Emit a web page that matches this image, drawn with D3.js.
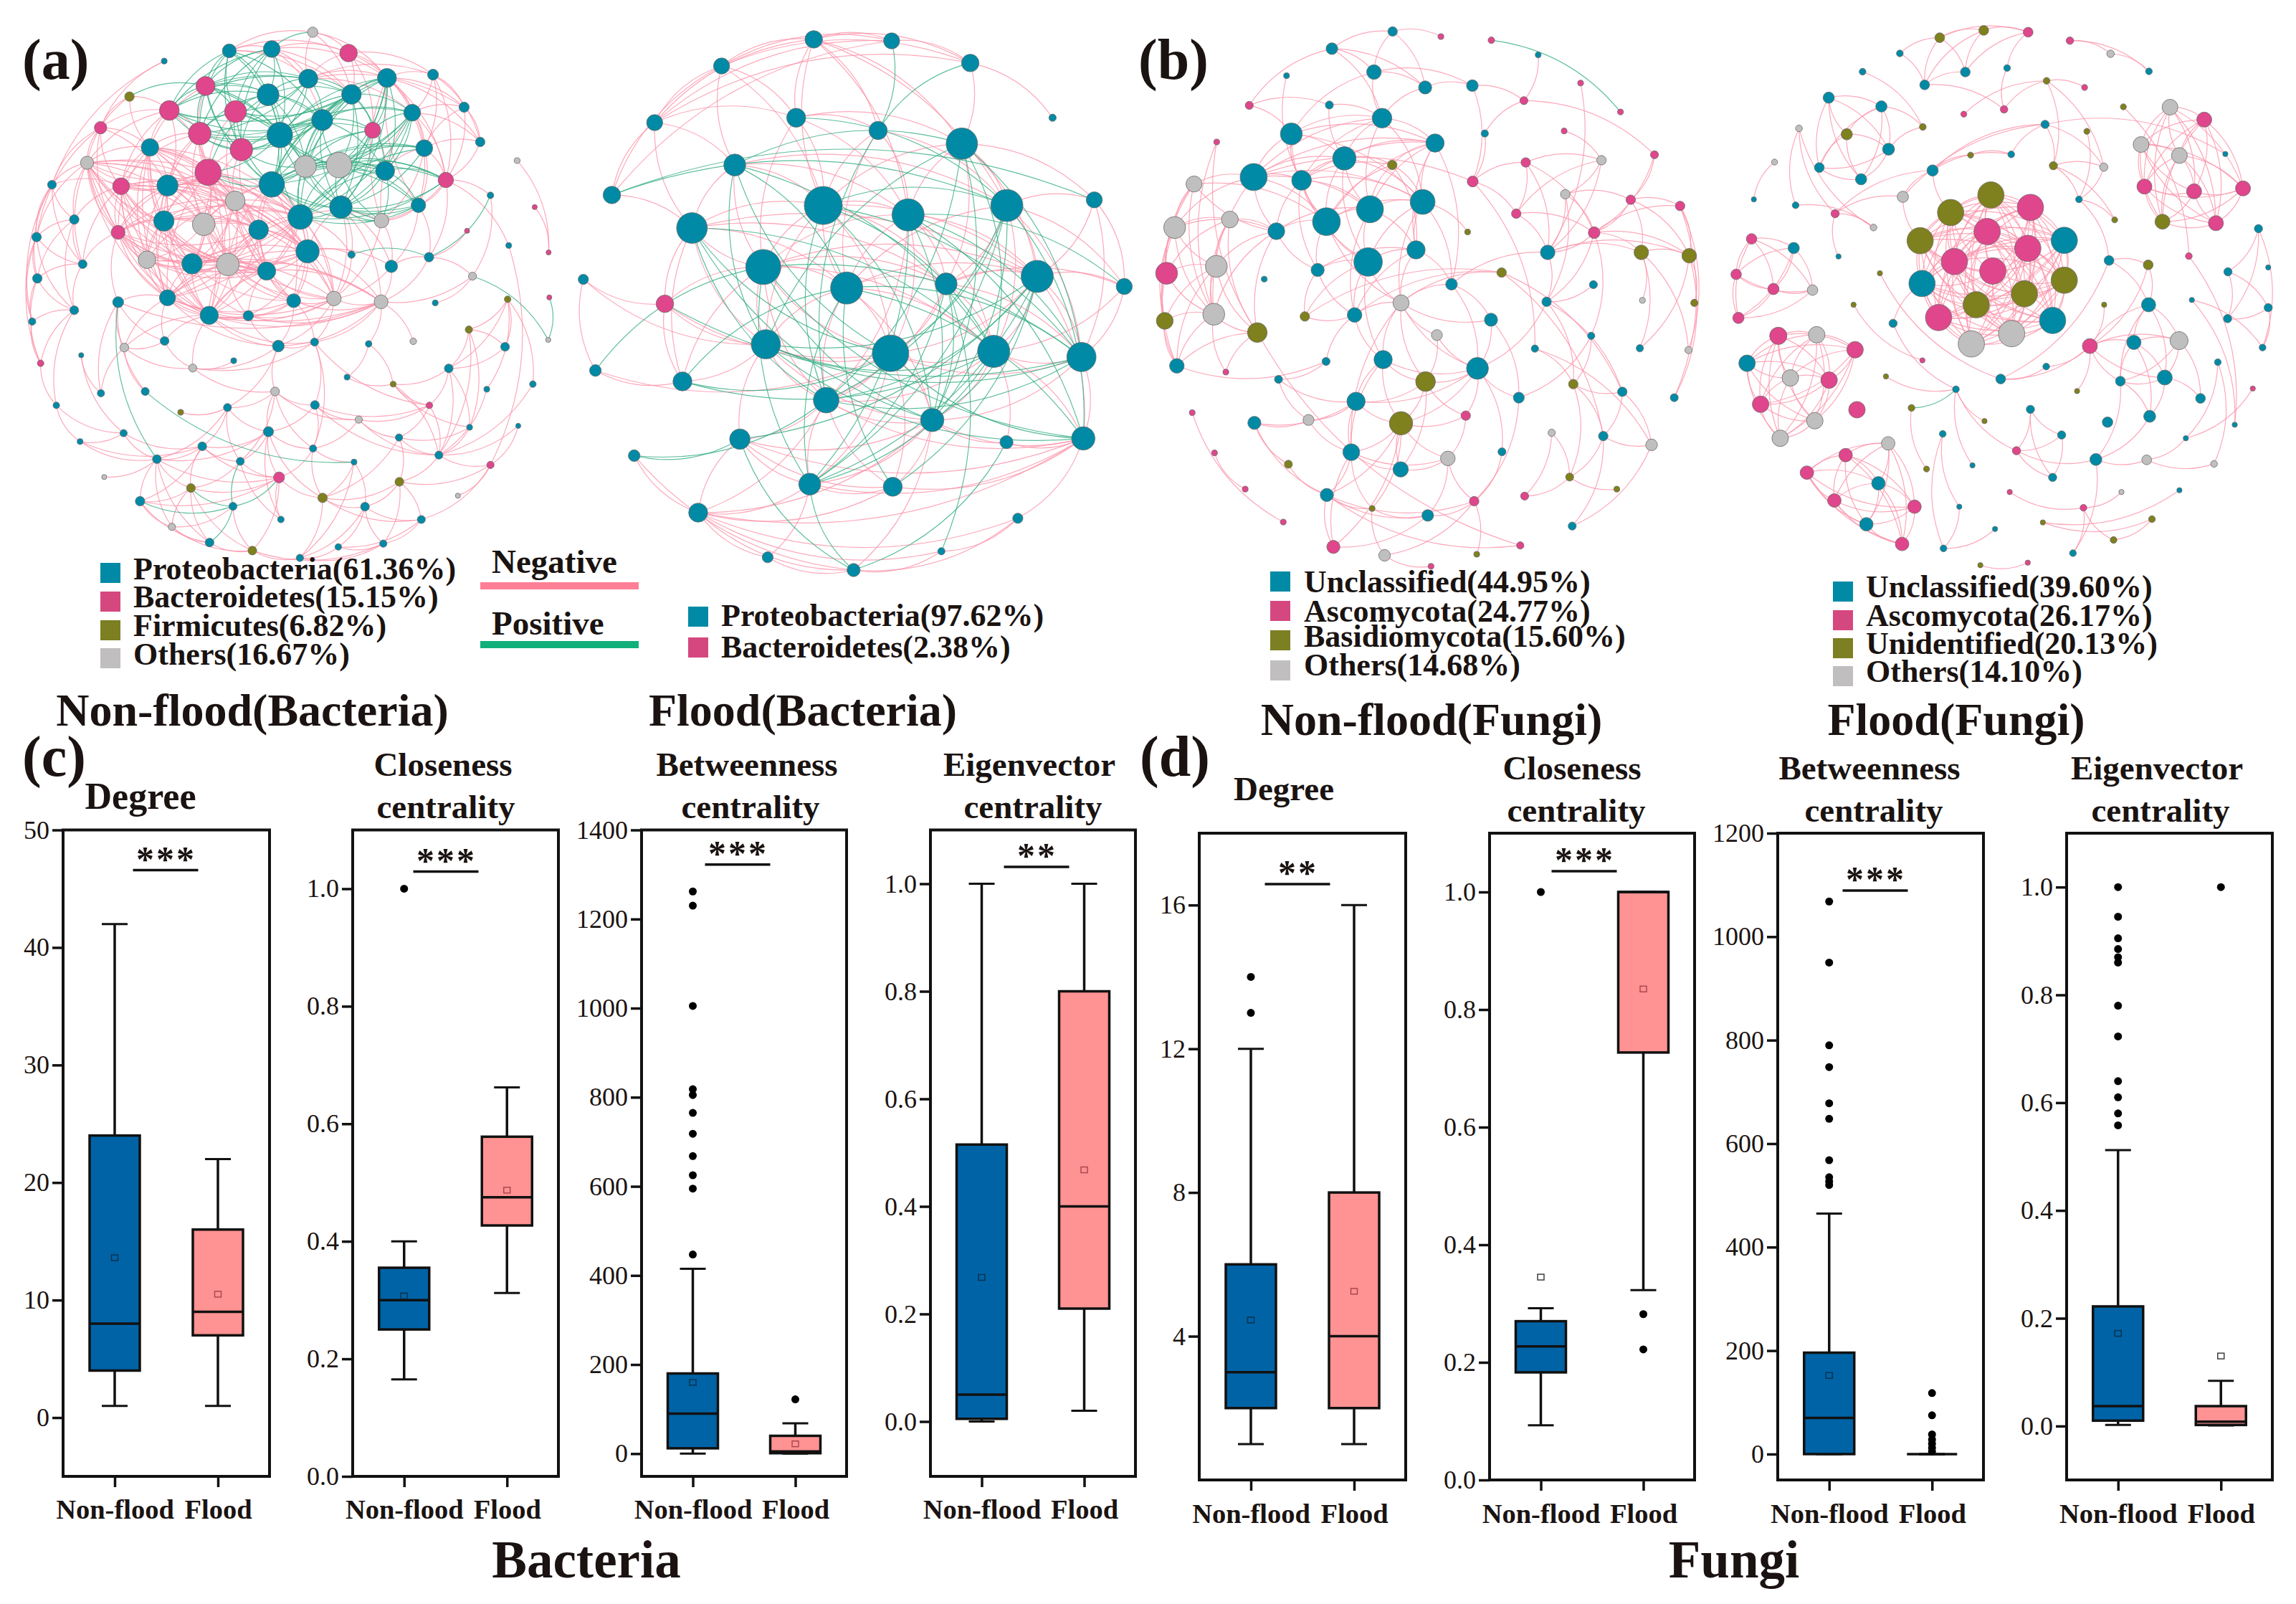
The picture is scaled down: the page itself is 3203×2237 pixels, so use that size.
<!DOCTYPE html>
<html><head><meta charset="utf-8">
<script src="https://cdn.jsdelivr.net/npm/d3@7/dist/d3.min.js"></script>
<style>html,body{margin:0;padding:0;background:#fff}svg{display:block}text{font-family:"Liberation Serif","Times New Roman",serif;fill:#1a1311}</style>
</head><body><svg id="c" width="3203" height="2237"></svg>
<script>
// ---- network layouts: [x, y, size, group] in layout units (group 0 teal,1 pink,2 olive,3 grey)
const layoutA=[[449,167,8,0],[855,88,14,3],[627,139,19,0],[743,134,23,0],[953,145,24,1],[843,215,26,0],[1058,213,26,0],[1184,204,15,0],[562,235,26,1],[733,259,30,0],[961,258,27,0],[354,264,13,2],[1269,293,14,0],[463,302,27,1],[644,305,30,1],[881,328,29,0],[1127,308,23,0],[275,349,17,1],[546,365,31,1],[765,369,35,0],[1019,356,22,1],[1313,388,13,0],[410,403,24,0],[660,409,31,1],[1160,405,23,0],[238,445,18,3],[569,471,36,1],[835,455,30,3],[927,451,35,3],[1053,467,26,0],[1414,439,8,3],[1219,492,21,1],[142,505,12,0],[331,509,23,1],[458,507,29,0],[743,504,35,0],[1341,534,9,0],[643,549,27,3],[932,566,31,0],[1144,561,20,0],[1462,566,7,1],[203,600,13,0],[448,604,28,0],[557,613,31,3],[821,593,34,0],[1043,603,20,3],[1277,631,7,1],[100,648,13,0],[323,635,19,1],[707,628,27,0],[1391,671,8,0],[1500,690,7,1],[226,722,12,0],[402,710,24,3],[525,721,28,0],[623,723,31,3],[841,687,32,0],[961,696,10,0],[1173,703,13,0],[102,761,13,0],[729,741,25,0],[1070,728,17,0],[1292,755,11,3],[323,826,15,0],[458,814,22,0],[803,822,19,0],[913,816,20,3],[1042,825,19,3],[1190,828,8,0],[1388,818,9,2],[1502,813,7,1],[203,848,12,0],[88,879,10,0],[572,862,25,0],[679,863,14,0],[450,932,12,0],[761,946,16,0],[860,935,11,0],[1008,940,9,0],[1130,933,9,3],[1282,901,10,2],[1381,948,12,0],[1499,929,7,3],[340,950,12,3],[111,993,9,1],[222,971,7,0],[527,1006,11,3],[639,986,8,0],[949,1031,8,0],[1227,1007,12,0],[276,1075,10,0],[397,1070,11,0],[1075,1050,8,2],[1331,1064,8,0],[1457,1050,9,0],[752,1070,12,3],[154,1108,9,0],[622,1114,11,0],[494,1127,8,2],[861,1107,12,0],[1174,1108,9,1],[981,1147,10,3],[338,1184,10,0],[1284,1168,8,0],[1417,1164,7,0],[734,1180,14,0],[1091,1196,10,0],[219,1207,8,0],[553,1220,12,0],[856,1226,10,0],[429,1255,12,0],[657,1261,11,0],[968,1263,8,0],[1200,1244,11,0],[1341,1271,10,1],[763,1305,15,1],[285,1304,7,3],[522,1334,12,2],[1092,1317,12,2],[1252,1355,7,3],[383,1370,13,0],[882,1361,13,2],[637,1384,11,0],[998,1385,12,0],[470,1440,10,3],[768,1420,9,0],[1152,1420,11,0],[573,1483,12,0],[690,1505,12,2],[1048,1486,10,0],[925,1495,9,0],[820,1525,10,0]];
const negCliquesA=[[26,34,42,43,37,49,54,55,53,60,56,44,33,48,22,25,64,73],[64,73,74,65,66,67,60,56,54,55],[49,37,35,44,56,60,65,66,43,55],[13,22,34,26,33,25],[6,16,24,31,39,45]];
const posCliquesA=[[8,13,14,18,23,5,10,15,19,9,2,3],[19,27,28,35,38,15,29,44,10,20,6,16],[27,28,35,38,29,39,45,44,31,24],[8,14,23,26,27,35,19,9]];
const negA=[[0,[17,32]],[1,[2,4,5,10,6]],[2,[3,4,5,10]],[3,[4,5,6,10,15]],[4,[5,6,7,10,16,20]],[5,[6,7,12,16]],[6,[7,12,21,24]],[7,[12,16,21,24,31]],[12,[16,21,24,31]],[16,[21,24,31]],[21,[24,31]],[11,[17,25,13,22]],[17,[25,32,33,47,48,13,22,34]],[25,[32,33,41,47,52,48,22,34,42]],[32,[41,47,52,59,72,33]],[41,[47,52,59,71,33]],[47,[52,59,71,72,84]],[52,[59,71,48,33]],[59,[71,72,84]],[71,[72,84,96]],[72,[84]],[84,[96]],[48,[63,64,53,54]],[31,[50,36,58]],[50,[114]],[30,[51]],[40,[51]],[36,[62]],[62,[68,67,58]],[46,[58]],[69,[80,89,81,93]],[80,[89,81,113,103]],[81,[89]],[89,[113,103,100,92]],[94,[113,69]],[93,[113]],[63,[83,90,91,75,64,67]],[83,[86,90,91,75,64,73]],[64,[75,76]],[73,[75,76,77,86]],[74,[76]],[65,[67,76,77]],[66,[67,76,77,57,61]],[67,[77,76,78,79,61,58]],[76,[77,86,95,97]],[77,[86,99,100,109]],[78,[88,92]],[75,[86]],[86,[87,95]],[85,[90,102]],[96,[102,107]],[102,[107,110,108]],[107,[110,108]],[110,[108,97,117,120,124,127,115,105]],[97,[98,105,108,111,95]],[95,[99,105,109,111,101]],[99,[105,109,101,100,113]],[100,[92,101,106,113,77]],[92,[100,113,103]],[101,[109,106,113]],[88,[92]],[105,[108,111,115,121,125,109]],[108,[111,115,117,120]],[111,[115,117,125]],[109,[115,121,112]],[112,[123,121,131]],[115,[121,125,128,117,120]],[117,[120,124,127,128]],[120,[124,127]],[124,[127,128,122]],[127,[128]],[122,[128]],[128,[131,129]],[121,[123,118,126,131,106]],[123,[118,126,129,130,131]],[118,[126,106,113,129,114,121]],[126,[129,114,130]],[129,[130,131]],[130,[131]],[113,[103,104,106,114,94,80]],[106,[103]],[114,[119,104]],[103,[80]],[116,[110]],[33,[22,34,42,53]],[22,[13,8,18,34,42]],[13,[18,34,26]],[18,[26,34,42,43,37,33]],[23,[26,37,49,43]],[8,[26]],[14,[26,37]],[44,[45,56,65,66,57]],[38,[56,66,67,61,57]],[56,[65,66,67,61,57]],[61,[67,58,66,39]],[58,[67,39]],[39,[61]],[45,[61,66]],[60,[73,74,65,49]],[29,[20,24]]];
const posA=[[11,[17,8,13,22]],[63,[110]],[91,[112]],[62,[58,68,82]],[70,[82]],[36,[58]],[110,[117]],[117,[122]],[122,[127,115,111,120]],[111,[105]],[120,[124]],[67,[77]],[21,[24,12]],[31,[39,58]],[1,[3]],[2,[8,9]],[4,[10,5]],[6,[16,29]],[16,[24,29]],[24,[29,39]],[57,[58]],[25,[22]]];

const layoutB=[[657,105,24,0],[870,109,22,0],[1085,168,24,0],[405,176,22,0],[1310,314,10,0],[222,327,22,0],[609,314,26,0],[833,348,25,0],[1062,383,43,0],[441,440,30,0],[105,520,24,0],[683,548,52,0],[915,573,44,0],[1185,548,44,0],[1424,533,22,0],[324,608,42,0],[519,712,48,0],[747,768,44,0],[1019,757,30,0],[1268,737,44,0],[1506,764,22,0],[27,745,14,0],[250,810,24,1],[526,918,40,0],[867,942,50,0],[1149,937,44,0],[1389,952,40,0],[60,988,16,0],[298,1017,26,0],[691,1067,35,0],[981,1120,32,0],[455,1171,28,0],[1184,1179,18,0],[1394,1169,32,0],[166,1215,16,0],[646,1291,30,0],[873,1298,26,0],[341,1367,26,0],[1215,1382,14,0],[1006,1470,10,0],[531,1486,15,0],[766,1520,18,0]];
const negB=[[0,[1,2,3,5,6,11,12,13,7,8]],[1,[2,3,5,10]],[2,[3,4,5,8]],[3,[5,10,6,9,11]],[5,[10,6,9,15]],[10,[15]],[6,[7,11,12,16,8]],[7,[11,12,17,13]],[8,[11,12,13,14,18,19]],[9,[11,12,13,15,16]],[11,[12,15,16,17,18,19,23,24]],[12,[16,17,18,19,25,24,29]],[13,[17,18,19,25,26,14,20]],[14,[19,20,26]],[15,[16,22,28,23,18,17,19]],[16,[17,18,19,22,23,24,25,29]],[17,[18,19,23,24,25,29,30]],[18,[19,24,25,26,29]],[19,[20,25,26,24,33]],[20,[26,25,18]],[21,[22,27,23]],[22,[28,23,24]],[23,[24,28,29,31,30]],[24,[25,26,29,30,36,35,27]],[25,[26,29,30,32,33]],[26,[33,30]],[27,[28,24]],[28,[23,16]],[29,[30,31,33,35,36,37]],[30,[31,32,33,35,36,37,41]],[31,[33,35,36,37]],[32,[33]],[33,[35,36,37,38,26]],[35,[36,37,40]],[36,[37,30]],[37,[41,39,40]],[38,[41,39,33,37]],[39,[41]],[34,[41,37]],[40,[41,37]]];
const posB=[[3,[9]],[9,[8,13,23,17,24,25]],[6,[8,13]],[7,[12,1,29]],[2,[7]],[10,[13,14]],[14,[13]],[15,[22,24,25,29,11,30]],[16,[28,27,19,26,30,33,35]],[11,[25,29,30,13,26]],[12,[30,35,26,20,33]],[13,[29,30,24,33,35]],[19,[17,29,14,30,35,36]],[8,[26,25,30,29,23]],[17,[35,26,33,36]],[18,[30,35]],[22,[26]],[21,[27]],[23,[26,33,25,19]],[24,[33,28]],[25,[35]],[28,[25,17]],[29,[34,26]],[31,[34,41,19]],[35,[41]],[37,[41]],[32,[41]],[39,[18]],[40,[41]]];

const layoutC=[[711,86,13,0],[843,100,8,1],[981,110,9,1],[545,133,16,0],[1109,150,8,0],[660,197,20,0],[421,207,8,0],[800,239,18,0],[929,234,16,0],[1225,227,8,1],[1070,275,11,1],[319,288,11,1],[538,287,11,0],[1334,306,8,1],[682,323,27,0],[434,366,30,0],[963,365,10,0],[1180,358,8,1],[827,391,25,0],[230,388,8,1],[1427,423,11,1],[579,433,32,0],[1075,444,13,1],[1282,438,13,3],[710,451,13,2],[331,484,37,0],[462,493,27,0],[168,503,22,3],[930,496,15,1],[793,552,34,0],[1183,531,13,3],[649,572,37,0],[1362,546,13,1],[1497,563,13,1],[1049,584,13,1],[530,606,38,0],[266,600,23,3],[115,622,30,3],[393,632,23,0],[916,634,8,2],[1262,636,16,1],[775,683,25,0],[1135,690,20,0],[1391,690,20,2],[1522,699,20,2],[644,716,39,0],[93,747,30,1],[229,728,30,3],[506,738,18,0],[360,763,8,0],[1009,745,13,2],[872,777,16,0],[1260,778,11,0],[734,828,22,3],[1132,825,13,0],[1394,821,8,3],[1536,828,10,2],[222,859,30,3],[607,861,20,0],[471,865,13,2],[88,877,23,2],[980,874,18,0],[341,909,27,2],[832,916,15,3],[1254,918,10,0],[1100,953,10,0],[1387,952,10,0],[1520,957,10,3],[685,983,25,0],[121,1000,20,0],[529,988,11,0],[943,1007,30,0],[255,1017,8,1],[399,1037,11,0],[801,1043,27,2],[1205,1050,13,2],[1339,1071,13,0],[1056,1087,15,0],[1481,1087,11,0],[611,1097,25,0],[333,1156,18,0],[481,1148,15,3],[163,1128,8,1],[911,1136,13,1],[734,1157,32,2],[1146,1183,10,3],[1287,1192,13,0],[1419,1216,16,3],[598,1236,23,0],[1010,1235,11,0],[862,1253,20,3],[224,1238,8,1],[733,1283,21,0],[426,1269,11,2],[1195,1304,11,2],[308,1337,8,1],[1324,1337,8,2],[531,1353,18,0],[934,1370,13,1],[1072,1356,11,1],[655,1390,8,2],[807,1409,16,0],[412,1427,8,1],[1202,1438,11,0],[549,1495,18,1],[1060,1491,10,1],[689,1518,16,3],[941,1515,8,2],[816,1548,8,1]];
const negC=[[0,[1,3,5,7]],[3,[11,5,14,7]],[5,[7,8,14,15]],[7,[8,14]],[8,[10,28]],[4,[10]],[10,[16,20]],[16,[28]],[9,[42]],[11,[12,15]],[6,[26]],[12,[21,14]],[14,[15,18,21,25,26,29,31]],[15,[18,21,25,26,29,35]],[18,[21,24,29,31,35,41,26,25,51]],[19,[57,62]],[21,[24,25,26,29,31,35,45]],[24,[26,29,31,35,41]],[25,[26,27,28,29,31,35,38,37,57]],[26,[29,31,35,38,48,45]],[29,[31,35,39,41,45,51,53]],[31,[35,38,41,45,58]],[35,[38,45,48,53,27]],[38,[27,36,37,47,48,57,62]],[27,[37,46,57,60]],[36,[37,46,47,57,62]],[37,[46,47,57,60,69]],[46,[47,57,60,69]],[47,[57,60,62,69]],[57,[60,62,69,72]],[60,[69]],[62,[69,72,105]],[69,[70]],[70,[58,73]],[41,[45,53,51,58,48]],[45,[53,58,59,68,48]],[48,[59,58]],[53,[58,51,63,68,71,74,50,61,88]],[58,[59,50,68]],[59,[50]],[51,[61,71]],[61,[71,77]],[63,[71,74]],[28,[22,34,65]],[22,[23,34,40,42]],[17,[23]],[23,[30,34,42]],[30,[32,40,42,54]],[32,[33,40,43,44,20]],[20,[40]],[33,[40,44,67,78]],[34,[40,42]],[40,[42,43,44,54,64]],[42,[43,44,54,51]],[43,[44,55,66,67]],[44,[56,66,78]],[54,[52,71,76,75]],[50,[76,86]],[64,[75,77]],[65,[75,87]],[75,[76,86,94]],[76,[87,86]],[85,[94,99]],[86,[87,103,94]],[87,[103]],[94,[96,99]],[77,[71,98]],[71,[68,74,79,83,84,89]],[68,[74,79,84,88]],[74,[79,84,92,83]],[79,[80,81,84,88,73]],[80,[81,93,97]],[81,[73,88]],[83,[84,90]],[84,[88,90,92,97,100,104]],[88,[90,97,104,92,100]],[90,[92,98,101]],[93,[97]],[97,[98,100,104,101]],[98,[101,89,107]],[100,[101,106]],[101,[104]],[106,[108,98]],[105,[97]],[82,[102]],[91,[95]]];
const posC=[[2,[13]]];

const layoutD=[[856,88,13,1],[738,83,13,2],[621,103,13,2],[967,111,10,1],[1075,147,10,3],[515,146,9,0],[1177,195,9,0],[800,186,9,0],[689,197,13,0],[416,196,9,0],[581,232,13,0],[905,221,9,2],[1006,239,8,1],[792,299,10,1],[685,312,8,1],[326,267,15,0],[466,291,15,0],[1109,292,8,2],[576,347,9,2],[1233,293,21,3],[1324,327,20,1],[247,351,9,3],[374,367,15,2],[1012,359,8,2],[901,340,11,0],[1156,395,21,3],[485,408,16,0],[182,443,8,3],[703,424,8,2],[811,422,9,0],[1380,421,7,0],[1258,425,21,3],[301,458,13,0],[923,453,11,2],[1057,457,11,3],[412,490,15,0],[602,466,15,0],[757,533,35,2],[862,567,35,1],[650,581,35,2],[1165,510,20,1],[1297,523,20,1],[1427,515,20,1],[523,538,15,3],[991,545,9,0],[127,545,7,0],[238,561,9,0],[343,584,11,1],[747,633,35,1],[569,658,35,2],[952,657,35,0],[855,679,35,1],[1086,601,8,2],[1213,606,20,2],[1355,610,20,1],[445,622,9,3],[1468,625,11,0],[121,653,14,1],[233,678,15,0],[660,715,35,1],[352,701,7,0],[1283,700,9,1],[1071,712,13,0],[1175,724,13,2],[762,741,35,1],[80,750,14,1],[574,775,35,0],[952,766,35,2],[462,747,7,2],[1387,743,11,0],[1494,731,7,0],[179,790,15,1],[283,793,14,3],[846,803,35,2],[718,833,35,2],[1176,833,19,0],[1291,820,7,0],[392,833,7,2],[1058,833,7,2],[86,869,15,1],[618,868,35,1],[1386,871,11,0],[497,884,11,0],[921,876,35,0],[1494,841,11,0],[192,918,23,1],[294,915,22,3],[812,912,35,3],[396,956,22,1],[705,940,35,3],[1020,946,20,1],[1137,936,19,0],[1257,931,24,3],[575,985,7,1],[1479,950,9,0],[109,993,22,0],[224,1033,22,3],[327,1039,22,1],[904,1002,9,0],[1219,1032,20,0],[1101,1042,13,0],[783,1036,13,0],[478,1029,7,2],[986,1069,7,2],[1360,990,9,0],[664,1064,9,0],[1314,1089,13,0],[1453,1062,7,1],[145,1105,22,1],[401,1120,22,1],[546,1115,9,2],[289,1150,22,3],[740,1151,7,2],[862,1119,11,0],[1179,1138,16,0],[1067,1154,14,0],[197,1198,22,3],[945,1189,11,0],[1405,1161,7,0],[1275,1198,7,0],[484,1212,18,3],[629,1186,9,0],[371,1244,18,1],[825,1232,11,1],[1036,1256,16,0],[1171,1257,13,3],[1350,1268,9,3],[268,1292,18,1],[458,1321,18,0],[586,1282,8,2],[708,1272,7,0],[921,1305,11,0],[341,1368,18,1],[554,1385,18,1],[807,1345,7,1],[1104,1345,7,3],[1258,1340,7,0],[1003,1388,9,1],[673,1385,7,0],[426,1433,18,0],[1185,1419,9,2],[895,1428,7,2],[768,1446,7,0],[1083,1476,9,2],[631,1499,9,0],[975,1512,9,0],[521,1487,18,1],[729,1545,7,2],[855,1538,7,1]];
const negCliquesD=[[37,38,39,48,49,50,51,59,64,66,67,73,74,80,83,87,89],[19,20,25,31,40,41,42,53,54],[85,86,88,95,96,97,108,111,116],[120,122,127,128,132,133,139,146],[15,16,22,26,32,35],[57,58,65,71,72,79],[75,90,91,92,99,100]];
const negD=[[0,[1,2,8,7]],[1,[2,8,10]],[2,[5,10,8]],[5,[10]],[8,[10]],[3,[4,6]],[4,[6]],[7,[13]],[10,[13]],[11,[14,12,33,34]],[9,[18]],[16,[18]],[26,[18]],[36,[43,39,24,28,29]],[24,[43,29,33,34,30]],[28,[29]],[33,[34,44]],[34,[44]],[23,[44]],[44,[52,62]],[17,[61]],[61,[118]],[21,[46,55,47]],[46,[55]],[47,[55,43,36,60]],[43,[49]],[27,[45]],[68,[101]],[77,[93]],[82,[66,105]],[101,[90,98,62]],[90,[98,103,78]],[62,[75,63]],[63,[75,90]],[56,[69,81,94]],[69,[81,84]],[81,[84]],[84,[94]],[76,[94,118]],[104,[126,119]],[125,[126,124,119]],[119,[107,104]],[113,[117,123,131]],[117,[123,131]],[123,[131,124,105]],[105,[112,130,102]],[110,[129]],[121,[138,144]],[138,[144]],[142,[144]],[134,[137]],[135,[137]],[137,[143,145]],[124,[145,100,114]],[136,[141]],[140,[141,143]],[147,[148]],[100,[114]],[91,[99,114]],[99,[114,106]],[106,[92]],[52,[33]],[13,[11]]];
const posD=[[105,[110]]];

// ---- box-plot values
const catLabels=["Non-flood","Flood"];
const degreeB=[{lo:1,q1:4,med:8,q3:24,hi:42,mean:13.6,out:[]},{lo:1,q1:7,med:9,q3:16,hi:22,mean:10.5,out:[]}];
const closeB=[{lo:.165,q1:.25,med:.3,q3:.355,hi:.4,mean:.307,out:[1]},{lo:.312,q1:.427,med:.475,q3:.578,hi:.662,mean:.487,out:[]}];
const betweenB=[{lo:0,q1:12,med:90,q3:180,hi:415,mean:160,out:[447,595,625,668,718,765,805,818,1005,1230,1262]},{lo:0,q1:1,med:5,q3:40,hi:68,mean:22,out:[122]}];
const eigenB=[{lo:0,q1:.005,med:.05,q3:.515,hi:1,mean:.268,out:[]},{lo:.02,q1:.21,med:.4,q3:.8,hi:1,mean:.468,out:[]}];
const degreeF=[{lo:1,q1:2,med:3,q3:6,hi:12,mean:4.45,out:[13,14]},{lo:1,q1:2,med:4,q3:8,hi:16,mean:5.25,out:[]}];
const closeF=[{lo:.093,q1:.183,med:.227,q3:.27,hi:.292,mean:.345,out:[1]},{lo:.323,q1:.727,med:1,q3:1,hi:1,mean:.835,out:[.222,.282]}];
const betweenF=[{lo:0,q1:0,med:70,q3:196,hi:465,mean:152,out:[520,527,535,568,648,678,748,790,950,1068]},{lo:0,q1:0,med:0,q3:0,hi:0,mean:null,out:[5,12,20,28,38,75,118]}];
const eigenF=[{lo:.002,q1:.01,med:.037,q3:.222,hi:.512,mean:.172,out:[.558,.58,.61,.64,.723,.78,.86,.87,.885,.905,.945,1]},{lo:.001,q1:.002,med:.008,q3:.037,hi:.084,mean:.13,out:[1]}];

const groupColors=["#008aa5","#e0468c","#7f801e","#c0bfbf"];
const legendColors=["#008aa5","#d5487f","#7c7f22","#c0bebe"];
const svg=d3.select("#c");
const serif='"Liberation Serif","Times New Roman",serif';

function network(layout,neg,pos,negC,posC,ox,oy,sx,sy){
  const x=d3.scaleLinear().domain([0,1568]).range([ox,ox+1568/sx]);
  const y=d3.scaleLinear().domain([0,1568]).range([oy,oy+1568/sy]);
  const r=d3.scaleLinear().domain([0,1568]).range([0,1568/sx]);
  const cx=d3.mean(layout,d=>x(d[0])),cy=d3.mean(layout,d=>y(d[1]));
  const expand=(adj,cl)=>{const s=new Map();
    adj.forEach(([a,l])=>l.forEach(b=>{if(a!==b)s.set(Math.min(a,b)+"-"+Math.max(a,b),[a,b,cx,cy]);}));
    cl.forEach(c=>{const rx=d3.mean(c,i=>x(layout[i][0])),ry=d3.mean(c,i=>y(layout[i][1]));
      c.forEach((a,i)=>c.slice(i+1).forEach(b=>s.set(Math.min(a,b)+"-"+Math.max(a,b),[a,b,rx,ry])));});
    return s;};
  const P=expand(pos,posC),N=expand(neg,negC);
  N.forEach((v,k)=>P.delete(k));
  const arc=([a,b,rx,ry])=>{
    const x0=x(layout[a][0]),y0=y(layout[a][1]),x1=x(layout[b][0]),y1=y(layout[b][1]);
    const mx=(x0+x1)/2,my=(y0+y1)/2,nx=-(y1-y0)*.2,ny=(x1-x0)*.2;
    const d1=(mx+nx-rx)**2+(my+ny-ry)**2,d2=(mx-nx-rx)**2+(my-ny-ry)**2;
    const s=d1>=d2?1:-1;const p=d3.path();p.moveTo(x0,y0);p.quadraticCurveTo(mx+s*nx,my+s*ny,x1,y1);return p.toString();};
  const g=svg.append("g");
  g.append("g").selectAll("path").data([...N.values()]).join("path").attr("d",arc).attr("fill","none").attr("stroke","#fb93aa").attr("stroke-width",1.2).attr("stroke-opacity",.8);
  g.append("g").selectAll("path").data([...P.values()]).join("path").attr("d",arc).attr("fill","none").attr("stroke","#33ad82").attr("stroke-width",1.15).attr("stroke-opacity",.8);
  g.append("g").selectAll("circle").data(layout).join("circle").attr("cx",d=>x(d[0])).attr("cy",d=>y(d[1])).attr("r",d=>r(d[2])).attr("fill",d=>groupColors[d[3]]).attr("stroke","#6b6b6b").attr("stroke-width",.8);
}
network(layoutA,negA,posA,negCliquesA,posCliquesA,0,0,1.96,1.96);
network(layoutB,negB,posB,[],[],800,0,1.96,1.912);
network(layoutC,negC,posC,[],[],1580,0,1.96,1.96);
network(layoutD,negD,posD,negCliquesD,[],2380,0,1.905,1.96);

function label(t,x,y,size,weight,anchor){svg.append("text").attr("x",x).attr("y",y).attr("font-size",size).attr("font-weight",weight||"bold").attr("text-anchor",anchor||"middle").text(t);}
[["(a)",31,110],["(b)",1588,110],["(c)",31,1082],["(d)",1590,1082]].forEach(d=>label(d[0],d[1],d[2],80,"bold","start"));
[["Non-flood(Bacteria)",352,1012],["Flood(Bacteria)",1120,1012],["Non-flood(Fungi)",1997,1025],["Flood(Fungi)",2729,1025]].forEach(d=>label(d[0],d[1],d[2],64));
label("Bacteria",818,2200,73);label("Fungi",2419,2200,73);

function legend(items,x0,tx,ys,bs){items.forEach((t,i)=>{
  svg.append("rect").attr("x",x0).attr("y",ys[i]).attr("width",28).attr("height",28).attr("fill",legendColors[i]);
  label(t,tx,bs[i],44,"bold","start");});}
legend(["Proteobacteria(61.36%)","Bacteroidetes(15.15%)","Firmicutes(6.82%)","Others(16.67%)"],140,186,[785,825,865,904],[808,847,887,927]);
legend(["Proteobacteria(97.62%)","Bacteroidetes(2.38%)"],960,1006,[846,889],[873,917]);
legend(["Unclassified(44.95%)","Ascomycota(24.77%)","Basidiomycota(15.60%)","Others(14.68%)"],1772,1819,[797,838,879,921],[826,867,902,942]);
legend(["Unclassified(39.60%)","Ascomycota(26.17%)","Unidentified(20.13%)","Others(14.10%)"],2557,2603,[811,851,890,929],[833,873,912,951]);
label("Negative",686,799,47,"bold","start");label("Positive",686,885,47,"bold","start");
svg.append("rect").attr("x",670).attr("y",812).attr("width",221).attr("height",10).attr("fill","#ff7f97");
svg.append("rect").attr("x",670).attr("y",894).attr("width",221).attr("height",10).attr("fill","#11b07a");

const boxFill=["#0063a6","#ff9292"],meanStroke=["#0c2f4a","#a8434c"];
function boxPanel(o){
  const {data,x0,x1,top,bot,domain,ticks,fmt,titles,titleX,titleY,titleSize,sig,catY}=o;
  const y=d3.scaleLinear().domain(domain).range([bot,top]);
  const x=d3.scalePoint().domain(catLabels).range([x0,x1]).padding(.5);
  const g=svg.append("g");
  g.append("rect").attr("x",x0).attr("y",top).attr("width",x1-x0).attr("height",bot-top).attr("fill","none").attr("stroke","#111").attr("stroke-width",4);
  const ay=g.append("g").attr("transform",`translate(${x0},0)`).call(d3.axisLeft(y).tickValues(ticks).tickFormat(fmt).tickSize(15).tickPadding(4));
  ay.select(".domain").remove();ay.selectAll("line").attr("stroke","#111").attr("stroke-width",3.5);
  ay.selectAll("text").attr("font-size",36).attr("font-family",serif).attr("fill","#1a1311");
  const ax=g.append("g").attr("transform",`translate(0,${bot})`).call(d3.axisBottom(x).tickSize(15).tickPadding(0));
  ax.select(".domain").remove();ax.selectAll("line").attr("stroke","#111").attr("stroke-width",3.5);
  ax.selectAll("text").attr("font-size",38.5).attr("font-weight","bold").attr("font-family",serif).attr("fill","#1a1311").attr("dy",0).attr("y",catY-bot);
  data.forEach((d,i)=>{
    const cx=x(catLabels[i]);
    const ln=(a,b,c,e,w)=>g.append("line").attr("x1",a).attr("y1",b).attr("x2",c).attr("y2",e).attr("stroke","#111").attr("stroke-width",w||3);
    ln(cx,y(d.lo),cx,y(d.hi),3.5);ln(cx-18,y(d.lo),cx+18,y(d.lo));ln(cx-18,y(d.hi),cx+18,y(d.hi));
    g.append("rect").attr("x",cx-35).attr("y",y(d.q3)).attr("width",70).attr("height",y(d.q1)-y(d.q3)).attr("fill",boxFill[i]).attr("stroke","#111").attr("stroke-width",3.5);
    ln(cx-35,y(d.med),cx+35,y(d.med),3.5);
    g.selectAll(null).data(d.out).join("circle").attr("cx",cx).attr("cy",v=>y(v)).attr("r",5.5).attr("fill","#000");
    if(d.mean!=null){const inBox=d.mean<=d.q3&&d.mean>=d.q1;
      g.append("rect").attr("x",cx-4.5).attr("y",y(d.mean)-4).attr("width",9).attr("height",8).attr("fill","none").attr("stroke",inBox?meanStroke[i]:"#333").attr("stroke-width",1.4);}
  });
  titles.forEach((t,i)=>label(t,titleX[i],titleY[i],titleSize||47));
  if(sig){g.append("line").attr("x1",sig.x-45.5).attr("x2",sig.x+45.5).attr("y1",sig.y).attr("y2",sig.y).attr("stroke","#111").attr("stroke-width",3.5);
    svg.append("text").attr("x",sig.x+1).attr("y",sig.y+1).attr("font-size",50).attr("font-weight","bold").attr("text-anchor","middle").attr("letter-spacing",3).text(sig.t);}
}
const fInt=d3.format("d"),f1=d3.format(".1f");
const topB=1157.5,botB=2059,topF=1162,botF=2064,catB=2118,catF=2124;
boxPanel({data:degreeB,x0:88,x1:376,top:topB,bot:botB,domain:[-5,50],ticks:[0,10,20,30,40,50],fmt:fInt,titles:["Degree"],titleX:[196],titleY:[1128],titleSize:52,sig:{x:231,y:1213.5,t:"***"},catY:catB});
boxPanel({data:closeB,x0:492,x1:779,top:topB,bot:botB,domain:[0,1.1],ticks:[0,.2,.4,.6,.8,1],fmt:f1,titles:["Closeness","centrality"],titleX:[618,622],titleY:[1082,1141],sig:{x:622,y:1215.6,t:"***"},catY:catB});
boxPanel({data:betweenB,x0:895,x1:1181,top:topB,bot:botB,domain:[-51,1400],ticks:[0,200,400,600,800,1000,1200,1400],fmt:fInt,titles:["Betweenness","centrality"],titleX:[1042,1047],titleY:[1082,1141],sig:{x:1029,y:1205.8,t:"***"},catY:catB});
boxPanel({data:eigenB,x0:1298,x1:1584,top:topB,bot:botB,domain:[-.102,1.1],ticks:[0,.2,.4,.6,.8,1],fmt:f1,titles:["Eigenvector","centrality"],titleX:[1436,1441],titleY:[1082,1141],sig:{x:1446,y:1209,t:"**"},catY:catB});
boxPanel({data:degreeF,x0:1673,x1:1961,top:topF,bot:botF,domain:[0,18],ticks:[4,8,12,16],fmt:fInt,titles:["Degree"],titleX:[1791],titleY:[1116],sig:{x:1810,y:1233,t:"**"},catY:catF});
boxPanel({data:closeF,x0:2078,x1:2364,top:topF,bot:botF,domain:[0,1.1],ticks:[0,.2,.4,.6,.8,1],fmt:f1,titles:["Closeness","centrality"],titleX:[2193,2199],titleY:[1087,1146],sig:{x:2210,y:1215,t:"***"},catY:catF});
boxPanel({data:betweenF,x0:2480,x1:2767,top:topF,bot:botF,domain:[-50,1200],ticks:[0,200,400,600,800,1000,1200],fmt:fInt,titles:["Betweenness","centrality"],titleX:[2608,2614],titleY:[1087,1146],sig:{x:2616,y:1242,t:"***"},catY:catF});
boxPanel({data:eigenF,x0:2883,x1:3170,top:topF,bot:botF,domain:[-.1,1.1],ticks:[0,.2,.4,.6,.8,1],fmt:f1,titles:["Eigenvector","centrality"],titleX:[3009,3014],titleY:[1087,1146],sig:null,catY:catF});
</script></body></html>
